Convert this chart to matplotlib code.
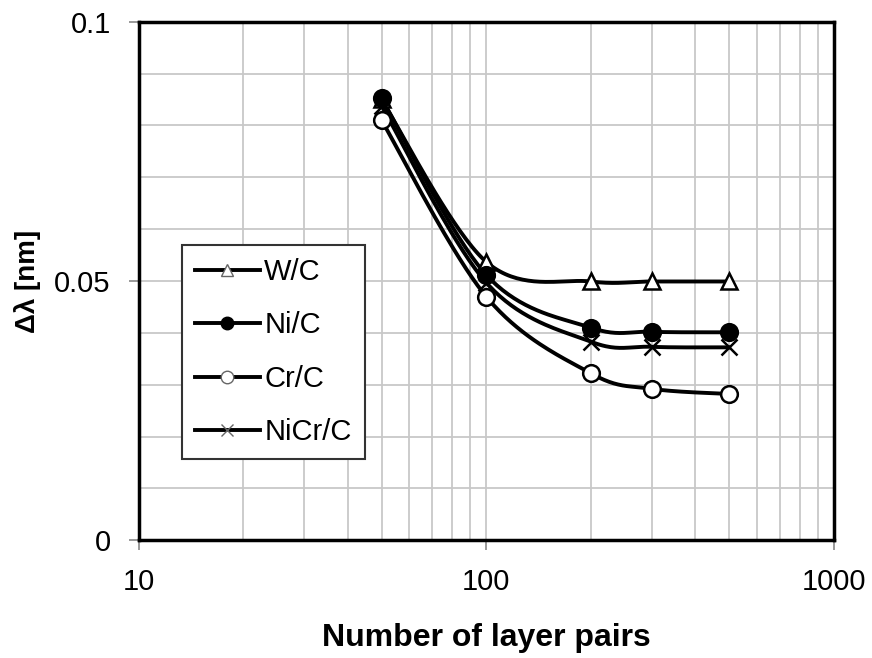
import numpy as np
import matplotlib
matplotlib.use("Agg")
import matplotlib.pyplot as plt
from matplotlib.lines import Line2D
from matplotlib.ticker import FixedLocator, NullFormatter

plt.rcParams['font.family'] = ['Liberation Sans', 'DejaVu Sans']

pairs = [50, 100, 200, 300, 500]
wc = [0.0850, 0.0537, 0.0499, 0.0499, 0.0499]
nic = [0.0852, 0.0512, 0.0410, 0.0402, 0.0401]
crc = [0.0810, 0.0470, 0.0322, 0.0292, 0.0282]
nicrc = [0.0838, 0.0497, 0.0383, 0.0373, 0.0372]

names = ['W/C', 'Ni/C', 'Cr/C', 'NiCr/C']
series = [wc, nic, crc, nicrc]
markers = ['^', 'o', 'o', 'x']
faces = ['white', 'black', 'white', 'black']
leg_edges = ['#666666', 'black', '#666666', '#666666']


def smooth(xs, ys, n=40):
    # excel-style smoothed line: cubic bezier, control points from neighbours
    u = np.log10(xs)
    v = np.asarray(ys, dtype=float)
    pts = np.column_stack([u, v])
    out = []
    for i in range(len(pts) - 1):
        p0 = pts[max(i - 1, 0)]
        p1 = pts[i]
        p2 = pts[i + 1]
        p3 = pts[min(i + 2, len(pts) - 1)]
        c1 = p1 + (p2 - p0) / 6
        c2 = p2 - (p3 - p1) / 6
        t = np.linspace(0, 1, n)[:, None]
        seg = ((1 - t) ** 3 * p1 + 3 * (1 - t) ** 2 * t * c1
               + 3 * (1 - t) * t ** 2 * c2 + t ** 3 * p2)
        out.append(seg if i == 0 else seg[1:])
    seg = np.vstack(out)
    return 10 ** seg[:, 0], seg[:, 1]


fig = plt.figure(figsize=(8.72, 6.58), dpi=100)
ax = fig.add_axes([0.159, 0.179, 0.797, 0.788])

for ys, m, fc in zip(series, markers, faces):
    sx, sy = smooth(pairs, ys)
    ax.plot(sx, sy, color='black', lw=2.8, zorder=3)
    ax.plot(pairs, ys, linestyle='none', marker=m, markersize=12,
            markerfacecolor=fc, markeredgecolor='black', markeredgewidth=1.8,
            zorder=4)

ax.set_xscale('log')
ax.set_xlim(10, 1000)
ax.set_ylim(0, 0.1)
ax.set_yticks([0, 0.05, 0.1])
ax.set_yticklabels(['0', '0.05', '0.1'])
ax.yaxis.set_minor_locator(FixedLocator(np.arange(0.01, 0.1, 0.01)))
ax.xaxis.set_minor_formatter(NullFormatter())
ax.set_xticks([10, 100, 1000])
ax.set_xticklabels(['10', '100', '1000'])

ax.grid(True, which='both', color='#c8c8c8', lw=1.3, zorder=0)
ax.set_axisbelow(True)
ax.tick_params(which='major', length=7, width=1.2, color='#888888',
               labelsize=21)
ax.tick_params(axis='x', which='major', pad=13)
ax.tick_params(axis='y', which='major', pad=13)
ax.tick_params(which='minor', length=0)
for s in ax.spines.values():
    s.set_linewidth(2.5)
    s.set_color('black')

ax.set_xlabel('Number of layer pairs', fontsize=23, fontweight='bold')
ax.xaxis.set_label_coords(0.5, -0.160)
ax.set_ylabel('Δλ [nm]', fontsize=20, fontweight='bold')
ax.yaxis.set_label_coords(-0.140, 0.5)

handles = [Line2D([], [], color='black', lw=2.8, marker=m, markersize=9,
                  markerfacecolor=fc, markeredgecolor=ec,
                  markeredgewidth=1.0)
           for m, fc, ec in zip(markers, faces, leg_edges)]
leg = ax.legend(handles, names, loc='upper left',
                bbox_to_anchor=(0.062, 0.5695), fontsize=21, frameon=True,
                fancybox=False, edgecolor='#333333', framealpha=1,
                handlelength=2.23, handletextpad=0.15, labelspacing=0.87,
                borderpad=0.45, borderaxespad=0)
leg.get_frame().set_linewidth(1.5)

fig.savefig('out.png', dpi=100)
